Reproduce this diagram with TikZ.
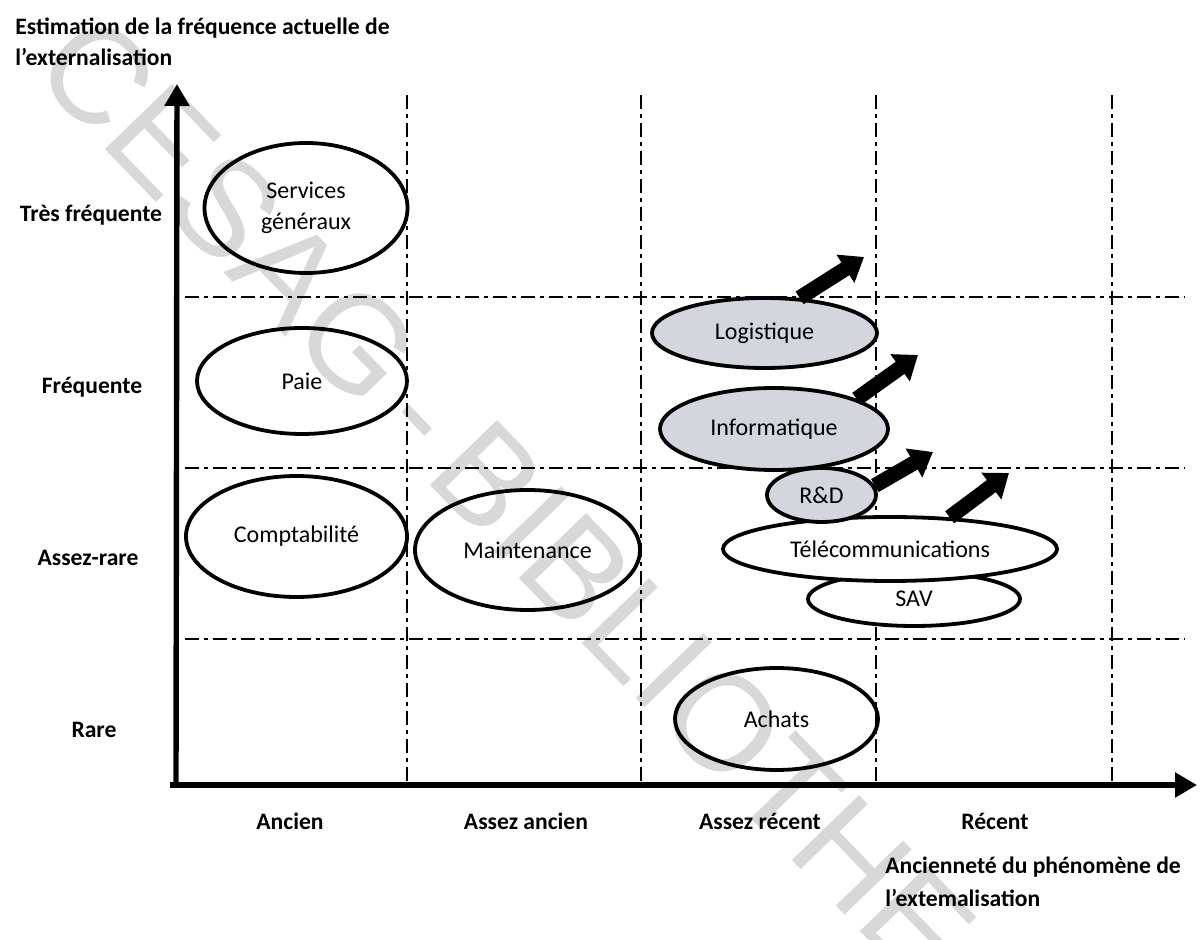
\documentclass[tikz,border=0pt]{standalone}
\usepackage{fontspec}
\setmainfont{Carlito}
\newfontfamily\wmfont{Liberation Sans}
\usetikzlibrary{shapes.geometric,arrows.meta}
\definecolor{shade}{RGB}{212,214,222}
\definecolor{wmgray}{RGB}{216,216,216}
\newcommand{\tightspace}{\fontdimen2\font=0.16em\relax}
\begin{document}
\begin{tikzpicture}[x=0.5pt,y=-0.5pt,
  grid/.style={line width=0.9pt, dash pattern=on 7pt off 2.5pt on 2pt off 2.5pt},
  axis/.style={line width=2.7pt, -{Triangle[length=11pt,width=12pt]}},
  oval/.style={ellipse, draw, line width=1.9pt, inner sep=0pt,
    font=\fontsize{12}{15.5}\selectfont},
  shaded/.style={oval, fill=shade},
  trend/.style={line width=7.5pt, -{Triangle[length=11pt,width=16pt]}},
  lab/.style={font=\bfseries\fontsize{11.8}{15.5}\selectfont, inner sep=0pt},
  wm/.style={font=\wmfont\fontsize{68}{68}\selectfont, text=wmgray, inner sep=0pt}
]
\useasboundingbox (0,0) rectangle (1200,940);
\clip (0,0) rectangle (1200,940);

% watermark
\node[wm, rotate=-46] (wmk) at (600,612) {\tightspace CESAG - BIBLIOTHEQUE};

% grid
\foreach \gx in {407,641,876,1112} \draw[grid] (\gx,95) -- (\gx,785);
\foreach \gy in {297,468,639} \draw[grid] (185,\gy) -- (1185,\gy);

% axes
\coordinate (o) at (176,785);
\coordinate (ytip) at (177,84);
\coordinate (xs) at (170,785);
\coordinate (xtip) at (1197,785);
\draw[axis] (o) -- (ytip);
\draw[axis] (xs) -- (xtip);

% titles
\node[lab, anchor=north west, align=left] (ytitle) at (15,18)
  {Estimation de la fréquence actuelle de\\l'externalisation};
\node[lab, anchor=north west, align=left, font=\bfseries\fontsize{11.8}{16.5}\selectfont] (xtitle) at (885,857)
  {Ancienneté du phénomène de\\l'extemalisation};

% y labels
\node[lab] (l1) at (91,215) {Très fréquente};
\node[lab] (l2) at (92,387) {Fréquente};
\node[lab] (l3) at (88,558) {Assez-rare};
\node[lab] (l4) at (94,730) {Rare};

% x labels
\node[lab] (c1) at (290,821) {Ancien};
\node[lab] (c2) at (526,821) {Assez ancien};
\node[lab] (c3) at (760,821) {Assez récent};
\node[lab] (c4) at (995,821) {Récent};

% ellipses
\node[oval, align=center, minimum width=101.5pt, minimum height=65pt] (sg) at (306,208) {Services\\généraux};
\node[oval, minimum width=105pt, minimum height=53pt] (paie) at (302,381) {Paie};
\node[oval, minimum width=110.5pt, minimum height=60.5pt] (compta) at (296.5,536.5) {Comptabilité};
\node[oval, minimum width=112.5pt, minimum height=60pt] (maint) at (527.5,550) {Maintenance};
\node[shaded, minimum width=112.5pt, minimum height=35pt] (logi) at (764.5,333) {Logistique};
\node[shaded, minimum width=114pt, minimum height=41pt] (info) at (774,429) {Informatique};
\node[oval, fill=white, minimum width=106pt, minimum height=27pt] (sav) at (914,599) {SAV};
\node[oval, fill=white, minimum width=167pt, minimum height=32pt] (tel) at (890,549) {Télécommunications};
\node[shaded, minimum width=54.5pt, minimum height=27pt] (rd) at (821.5,495) {R\&D};
\node[oval, minimum width=101.5pt, minimum height=51pt] (ach) at (776.5,719) {Achats};

% trend arrows
\coordinate (t1) at (864,257);
\coordinate (t2) at (918,355);
\coordinate (t3) at (933,452);
\coordinate (t4) at (1009,473);
\draw[trend] (logi.45) -- (t1);
\draw[trend] (info.20) -- (t2);
\draw[trend] (rd.10) -- (t3);
\draw[trend] (tel.28) -- (t4);
\end{tikzpicture}
\end{document}
